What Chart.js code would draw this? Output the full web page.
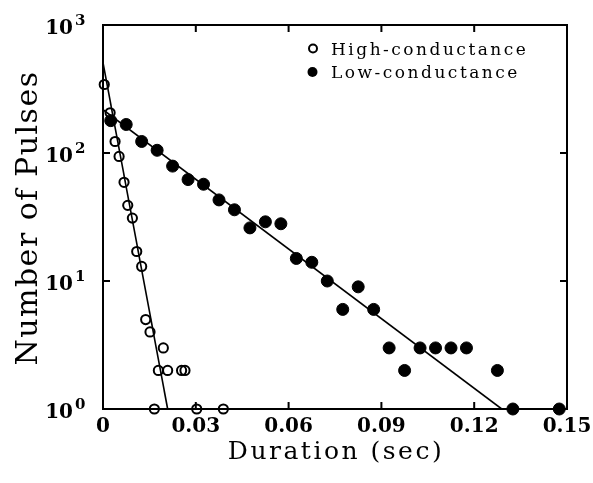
<!DOCTYPE html>
<html><head><meta charset="utf-8">
<script src="https://cdn.jsdelivr.net/npm/chart.js@4.4.0/dist/chart.umd.min.js"></script>
<style>html,body{margin:0;padding:0;background:#fff;} #wrap{width:593px;height:483px;}</style>
</head><body><div id="wrap"><canvas id="c" width="593" height="483"></canvas></div>
<script>
// ---- data ----
const highX = [0.0004, 0.0023, 0.0039, 0.0052, 0.0068, 0.0080, 0.0095, 0.0109, 0.0125, 0.0138, 0.0152, 0.0166, 0.0179, 0.0195, 0.0209, 0.0254, 0.0265, 0.0303, 0.0389];
const highY = [343, 206, 123, 94, 59, 39, 31, 17, 13, 5, 4, 1, 2, 3, 2, 2, 2, 1, 1];
const lowX = [0.0025, 0.0075, 0.0125, 0.0175, 0.0225, 0.0275, 0.0325, 0.0375, 0.0425, 0.0475, 0.0525, 0.0575, 0.0625, 0.0675, 0.0725, 0.0775, 0.0825, 0.0875, 0.0925, 0.0975, 0.1025, 0.1075, 0.1125, 0.1175, 0.1275, 0.1325, 0.1475];
const lowY = [179, 167, 123, 105, 79, 62, 57, 43, 36, 26, 29, 28, 15, 14, 10, 6, 9, 6, 3, 2, 3, 3, 3, 3, 2, 1, 1];
const fitHighX = [0, 0.0209];
const fitHighY = [507, 1];
const fitLowX = [0, 0.1289];
const fitLowY = [218, 1];
const xTicks = [0, 0.03, 0.06, 0.09, 0.12, 0.15];
const xTickLabels = ['0', '0.03', '0.06', '0.09', '0.12', '0.15'];
const yTicks = [1, 10, 100, 1000];
const yTickExp = ['0', '1', '2', '3'];
const seriesNames = ['High-conductance', 'Low-conductance'];
const xTitle = 'Duration (sec)';
const yTitle = 'Number of Pulses';

const pts = (xs, ys) => xs.map((x, i) => ({x: x, y: ys[i]}));
const SERIF = '"DejaVu Serif", "Liberation Serif", serif';

const decor = {
  id: 'decor',
  beforeDatasetsDraw(chart) {
    const {ctx, chartArea: a, scales: {x, y}} = chart;
    ctx.save();
    ctx.strokeStyle = '#000';
    ctx.lineWidth = 2;
    ctx.strokeRect(a.left, a.top, a.right - a.left, a.bottom - a.top);
    ctx.beginPath();
    xTicks.forEach(v => {
      const px = x.getPixelForValue(v);
      ctx.moveTo(px, a.bottom); ctx.lineTo(px, a.bottom - 7);
      ctx.moveTo(px, a.top); ctx.lineTo(px, a.top + 7);
    });
    yTicks.forEach(v => {
      const py = y.getPixelForValue(v);
      ctx.moveTo(a.left, py); ctx.lineTo(a.left + 7, py);
      ctx.moveTo(a.right, py); ctx.lineTo(a.right - 7, py);
    });
    ctx.stroke();
    ctx.restore();
  },
  afterDraw(chart) {
    const {ctx, chartArea: a, scales: {x, y}} = chart;
    ctx.save();
    ctx.fillStyle = '#000';
    ctx.strokeStyle = '#000';
    // x tick labels
    ctx.font = 'bold 20px ' + SERIF;
    ctx.textAlign = 'center';
    ctx.textBaseline = 'alphabetic';
    xTicks.forEach((v, i) => {
      ctx.fillText(xTickLabels[i], x.getPixelForValue(v), a.bottom + 23);
    });
    // y tick labels 10^n
    yTicks.forEach((v, i) => {
      const py = y.getPixelForValue(v);
      ctx.font = 'bold 20px ' + SERIF;
      ctx.textAlign = 'right';
      ctx.fillText('10', 73, py + 9);
      ctx.font = 'bold 15px ' + SERIF;
      ctx.textAlign = 'left';
      ctx.fillText(yTickExp[i], 75, py);
    });
    // x title
    ctx.letterSpacing = '2.5px';
    ctx.font = '25px ' + SERIF;
    ctx.textAlign = 'center';
    ctx.fillText(xTitle, (a.left + a.right) / 2 + 1, 459);
    // y title
    ctx.save();
    ctx.translate(37, (a.top + a.bottom) / 2 + 1);
    ctx.rotate(-Math.PI / 2);
    ctx.letterSpacing = '1.5px';
    ctx.font = '30px ' + SERIF;
    ctx.fillText(yTitle, 0, 0);
    ctx.restore();
    // legend
    ctx.letterSpacing = '2.5px';
    ctx.font = '17px ' + SERIF;
    ctx.textAlign = 'left';
    const rows = [48.5, 72];
    rows.forEach((cy, i) => {
      ctx.beginPath();
      if (i === 0) {
        ctx.lineWidth = 2;
        ctx.arc(313, cy, 4, 0, Math.PI * 2);
        ctx.stroke();
      } else {
        ctx.arc(312.5, cy, 5, 0, Math.PI * 2);
        ctx.fill();
      }
      ctx.fillText(seriesNames[i], 331, cy + 6);
    });
    ctx.restore();
  }
};

new Chart(document.getElementById('c'), {
  type: 'scatter',
  data: {
    datasets: [
      {label: 'fitHigh', data: pts(fitHighX, fitHighY), showLine: true, pointRadius: 0, borderColor: '#000', borderWidth: 1.6, fill: false},
      {label: 'fitLow', data: pts(fitLowX, fitLowY), showLine: true, pointRadius: 0, borderColor: '#000', borderWidth: 1.6, fill: false},
      {label: seriesNames[0], data: pts(highX, highY), pointStyle: 'circle', pointRadius: 4.6, borderWidth: 2, borderColor: '#000', backgroundColor: 'rgba(0,0,0,0)', clip: false},
      {label: seriesNames[1], data: pts(lowX, lowY), pointStyle: 'circle', pointRadius: 6, borderWidth: 1, borderColor: '#000', backgroundColor: '#000', clip: false}
    ]
  },
  options: {
    responsive: false,
    devicePixelRatio: 1,
    animation: false,
    layout: {padding: {top: 25, right: 26, left: 0, bottom: 0}},
    plugins: {legend: {display: false}, tooltip: {enabled: false}},
    scales: {
      x: {
        type: 'linear', min: 0, max: 0.15,
        afterBuildTicks: s => { s.ticks = xTicks.map(v => ({value: v})); },
        ticks: {display: false},
        grid: {display: false},
        border: {display: false},
        afterFit: s => { s.height = 74; }
      },
      y: {
        type: 'logarithmic', min: 1, max: 1000,
        afterBuildTicks: s => { s.ticks = yTicks.map(v => ({value: v})); },
        ticks: {display: false},
        grid: {display: false},
        border: {display: false},
        afterFit: s => { s.width = 103; }
      }
    }
  },
  plugins: [decor]
});
</script>
</body></html>
